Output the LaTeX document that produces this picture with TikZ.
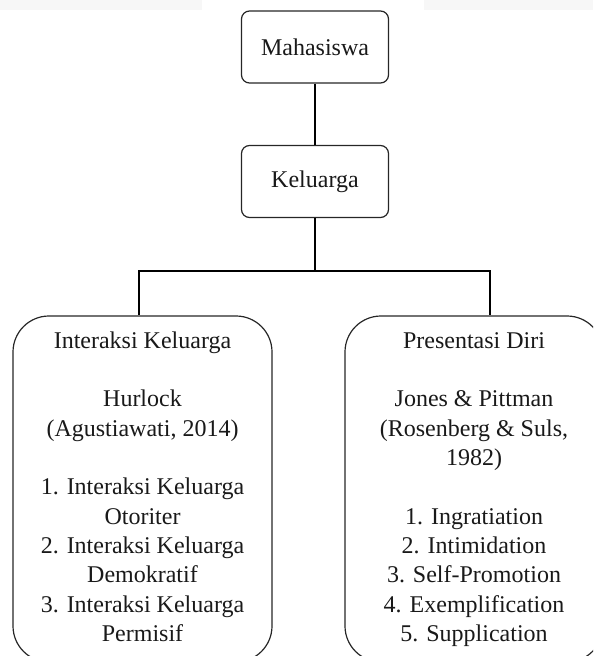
\documentclass[tikz,border=0pt]{standalone}
\usepackage{fontspec}
\setmainfont{Liberation Serif}
\begin{document}
\begin{tikzpicture}[x=0.75pt,y=-0.75pt,
  smallbox/.style={draw=black!85,line width=0.9pt,rounded corners=6pt,minimum width=110.25pt,minimum height=54pt,inner sep=0pt,font=\fontsize{18pt}{22pt}\selectfont,text=black!90},
  bigbox/.style={draw=black!85,line width=0.9pt,rounded corners=27pt,minimum height=259.5pt,inner sep=0pt,align=center,font=\fontsize{18pt}{22pt}\selectfont,text=black!90},
  link/.style={draw=black,line width=1.4pt}]
\useasboundingbox (0,0) rectangle (593,656);
\clip (0,0) rectangle (593,656);
\fill[black!3] (0,0) rectangle (202,10);
\fill[black!3] (424,0) rectangle (593,10);
\node[smallbox] (M) at (315,47) {Mahasiswa};
\node[smallbox] (K) at (315,181.5) {Keluarga};
\node[bigbox,minimum width=194.25pt] (L) at (142.5,489) {\strut Interaksi Keluarga\\ \mbox{}\\ Hurlock\\ (Agustiawati, 2014)\\ \mbox{}\\ 1. Interaksi Keluarga\\ Otoriter\\ 2. Interaksi Keluarga\\ Demokratif\\ 3. Interaksi Keluarga\\ Permisif\strut};
\node[bigbox,minimum width=193.5pt] (R) at (474,489) {\strut Presentasi Diri\\ \mbox{}\\ Jones \& Pittman\\ (Rosenberg \& Suls,\\ 1982)\\ \mbox{}\\ 1. Ingratiation\\ 2. Intimidation\\ 3. Self-Promotion\\ 4. Exemplification\\ 5. Supplication\strut};
\coordinate (jl) at (139,271);
\coordinate (jr) at (490,271);
\draw[link] (M.south) -- (K.north);
\draw[link] (K.south) -- (K.south |- jl);
\draw[link,line cap=rect] (jl) -- (jr);
\draw[link] (jl) -- (jl |- L.north);
\draw[link] (jr) -- (jr |- R.north);
\end{tikzpicture}
\end{document}
